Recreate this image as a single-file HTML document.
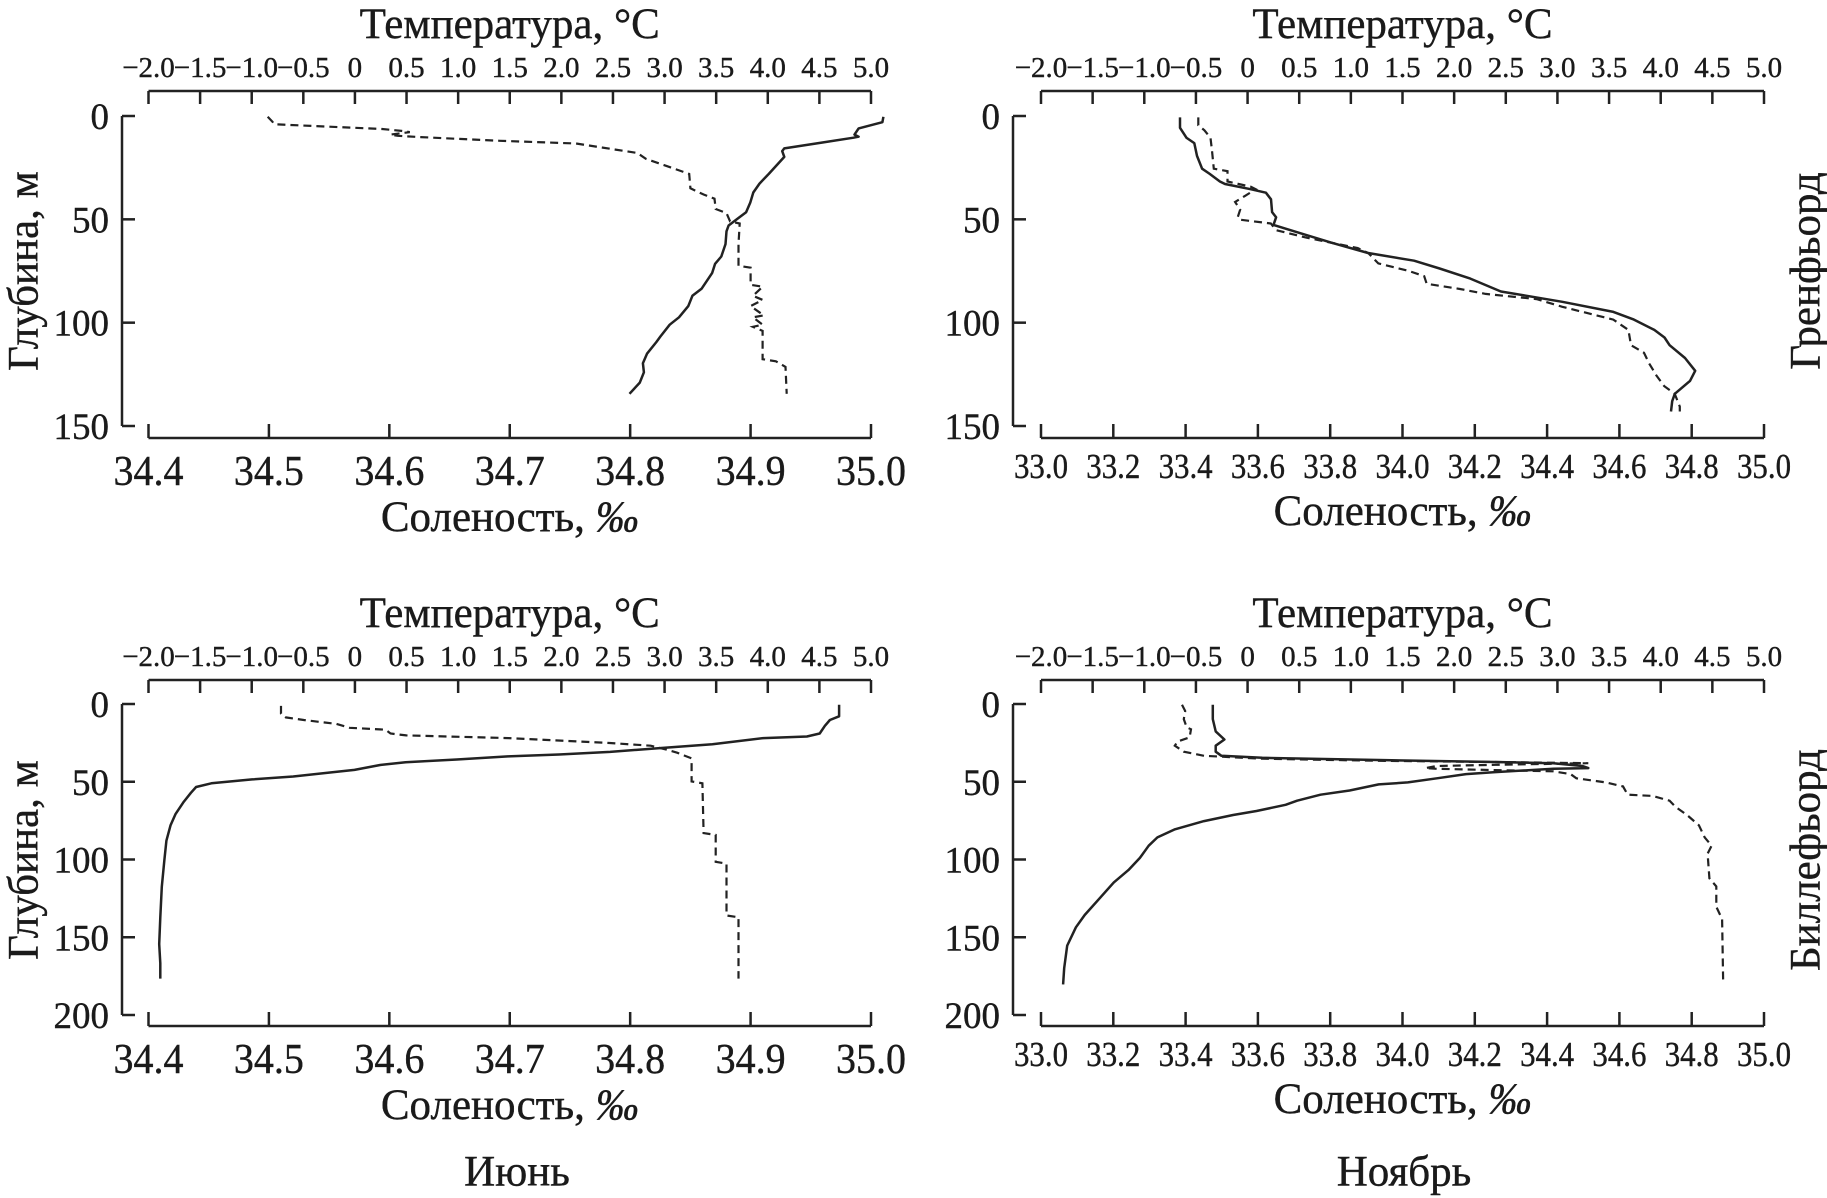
<!DOCTYPE html>
<html><head><meta charset="utf-8"><style>
html,body{margin:0;padding:0;background:#fff;}
svg{display:block;font-family:"Liberation Serif","DejaVu Serif",serif;}
</style></head><body>
<svg id="fig" width="1827" height="1198" viewBox="0 0 1827 1198" xmlns="http://www.w3.org/2000/svg"></svg>
<script>
// ---- data: Grenfjord June (top-left) ----
const gjTempDepth=[0.4,3,6,9,10,10.5,12.8,15.7,17,19.8,28,32.7,37,42,46.6,50,53,55.8,62,68,71.5,76,83.5,87,92,97.4,101,106.7,109.4,115,119.6,124,129,134.4];
const gjTemp=[5.12,5.11,4.88,4.84,4.88,4.83,4.53,4.16,4.14,4.16,4.01,3.92,3.86,3.83,3.79,3.70,3.62,3.60,3.59,3.55,3.49,3.46,3.36,3.27,3.23,3.14,3.05,2.96,2.92,2.83,2.79,2.80,2.76,2.66];
const gjSalDepth=[0.4,2.8,3.7,4,6.3,7.2,7.8,9,9.6,10.2,12,13.3,17.9,20.7,28,35,38,40,45,47,51,52,62,72.5,73.4,81.7,82.6,87,89,92,96.5,97.4,101,102,104,117.7,118.7,121.4,134.4];
const gjSal=[34.499,34.503,34.504,34.505,34.594,34.61,34.617,34.601,34.607,34.626,34.692,34.755,34.806,34.813,34.849,34.85,34.861,34.87,34.871,34.88,34.883,34.891,34.89,34.89,34.9,34.9,34.91,34.902,34.91,34.9,34.911,34.902,34.91,34.902,34.91,34.91,34.921,34.929,34.93];
// ---- data: Grenfjord November (top-right) ----
const gnTempDepth=[0.7,5.7,10.6,13.1,19.3,25.5,28,31.7,32.9,35.4,37.1,40.3,46.5,49,52.7,57.7,61.4,66.3,70,73.8,78.7,84.9,89.9,94.8,98.5,103.5,107.2,110.9,117.1,123.3,128.2,134.4,138,143];
const gnTemp=[-0.654,-0.654,-0.59,-0.516,-0.49,-0.44,-0.367,-0.268,-0.219,0.029,0.177,0.227,0.237,0.276,0.251,0.573,0.82,1.167,1.612,1.859,2.156,2.453,3.047,3.542,3.74,3.938,4.037,4.086,4.235,4.334,4.284,4.136,4.111,4.10];
const gnSalDepth=[0.7,4.5,6.9,10.6,16.8,25.5,26.7,31.7,34.2,35.4,38.6,41.6,45.3,49,50.2,52,55.2,58.9,63.9,66.3,71.3,75,77.5,81.2,83.7,86.1,88.6,92.3,98.5,103.5,110.9,114.6,119.6,125.7,130.7,134.4,140.6,143];
const gnSal=[33.435,33.435,33.452,33.469,33.473,33.478,33.516,33.516,33.58,33.594,33.565,33.537,33.551,33.544,33.551,33.636,33.65,33.735,33.876,33.905,33.933,34.018,34.06,34.067,34.159,34.23,34.371,34.442,34.583,34.625,34.632,34.668,34.682,34.703,34.724,34.753,34.767,34.767];
// ---- data: Billefjord June (bottom-left) ----
const bjTempDepth=[0.5,7.9,10.3,14,19,20.9,21.9,25.9,28.3,30.8,32.5,33.7,35.7,37.4,39.2,42.4,44.1,46.6,48.5,51,53.4,57.1,63.3,70.7,78.1,87.9,100.2,117.5,137.2,154.4,166.7,176.6];
const bjTemp=[4.691,4.691,4.602,4.553,4.503,4.379,3.958,3.463,2.968,2.472,1.977,1.482,0.987,0.491,0.244,-0.004,-0.252,-0.598,-0.995,-1.391,-1.539,-1.589,-1.663,-1.737,-1.787,-1.827,-1.846,-1.871,-1.886,-1.896,-1.886,-1.886];
const bjSalDepth=[1.2,6.2,8.6,10.3,12.8,15.3,16.5,19,20.2,21.9,25.1,26.8,29.3,31.3,35,49.8,51,83,84.2,101.5,102.7,136,137.2,176.6];
const bjSal=[34.51,34.51,34.514,34.529,34.556,34.567,34.597,34.601,34.614,34.699,34.783,34.817,34.83,34.839,34.851,34.851,34.86,34.861,34.871,34.871,34.88,34.88,34.89,34.89];
// ---- data: Billefjord November (bottom-right) ----
const bnTempDepth=[0.5,9.7,17.6,22.8,26.8,30.7,33.3,34.6,36,37.3,38.1,39.9,41.2,41.7,43.8,45.1,47.8,50.4,51.7,55.6,58.3,62.2,64.8,68.8,71.4,75.3,80.6,85.8,91.1,99,106.8,114.7,125.2,135.7,143.6,155.4,169.8,180.3];
const bnTemp=[-0.337,-0.337,-0.309,-0.224,-0.309,-0.309,-0.253,0.142,1.27,2.397,2.961,3.243,3.299,2.961,2.397,2.115,1.833,1.551,1.27,0.988,0.706,0.48,0.368,0.086,-0.14,-0.422,-0.703,-0.873,-0.957,-1.042,-1.154,-1.295,-1.436,-1.577,-1.662,-1.746,-1.775,-1.786];
const bnSalDepth=[0.5,4.5,9.7,15,16.3,21.5,24.1,26.8,30.7,33.3,35.2,36.5,37.3,38.1,39.1,39.9,41.2,41.7,42.5,43.3,45.1,47.8,50.4,53,58.3,59.1,62.2,66.1,71.4,78,85.8,91.1,96.3,112.1,117.3,130.4,138.3,180.3];
const bnSal=[33.39,33.399,33.395,33.403,33.415,33.411,33.378,33.37,33.395,33.451,33.612,33.934,34.256,34.514,34.256,34.095,34.063,34.095,34.256,34.417,34.465,34.481,34.562,34.61,34.623,34.691,34.739,34.755,34.787,34.82,34.836,34.855,34.844,34.849,34.868,34.868,34.884,34.887];
// ---- tick labels ----
const tempTicks=[-2.0,-1.5,-1.0,-0.5,0,0.5,1.0,1.5,2.0,2.5,3.0,3.5,4.0,4.5,5.0];
const salTicksJune=[34.4,34.5,34.6,34.7,34.8,34.9,35.0];
const salTicksNov=[33.0,33.2,33.4,33.6,33.8,34.0,34.2,34.4,34.6,34.8,35.0];
const depthTicksTop=[0,50,100,150];
const depthTicksBottom=[0,50,100,150,200];

const NS="http://www.w3.org/2000/svg";
const svg=document.getElementById('fig');
function mk(tag,attrs,parent){const e=document.createElementNS(NS,tag);for(const k in attrs)e.setAttribute(k,attrs[k]);(parent||svg).appendChild(e);return e;}
function fmtT(v){if(v===0)return '0';return (v<0?'\u2212':'')+Math.abs(v).toFixed(1);}
const TXT='#1a1a1a';

function panel(cfg){
  const g=mk('g',{});
  
  
  const sx=v=>cfg.x0+(v-cfg.sMin)/(cfg.sMax-cfg.sMin)*(cfg.x1-cfg.x0);
  const tx=v=>cfg.x0+(v-(-2))/7*(cfg.x1-cfg.x0);
  const dy=v=>cfg.d0+v/cfg.dMax*(cfg.dEnd-cfg.d0);
  const ta=mk('g',{},g);
  
  
  mk('line',{x1:cfg.x0,x2:cfg.x1,y1:cfg.topY,y2:cfg.topY,stroke:'#222','stroke-width':2.5},ta);
  tempTicks.forEach(v=>{
    mk('line',{x1:tx(v),x2:tx(v),y1:cfg.topY,y2:cfg.topY+13,stroke:'#222','stroke-width':2.5},ta);
    const t=mk('text',{x:tx(v),y:cfg.topY-14,'font-size':29,'text-anchor':'middle',fill:TXT,stroke:TXT,'stroke-width':0.4},ta);
    
    
    t.textContent=fmtT(v);
  });
  const tt=mk('text',{x:(cfg.x0+cfg.x1)/2,y:cfg.topY-53,'font-size':43,'text-anchor':'middle',fill:TXT,stroke:TXT,'stroke-width':0.4},g);
  
  
  tt.textContent='Температура, °C';
  const sa=mk('g',{},g);
  
  
  mk('line',{x1:cfg.x0,x2:cfg.x1,y1:cfg.botY,y2:cfg.botY,stroke:'#222','stroke-width':2.5},sa);
  cfg.sTicks.forEach(v=>{
    mk('line',{x1:sx(v),x2:sx(v),y1:cfg.botY,y2:cfg.botY-14,stroke:'#222','stroke-width':2.5},sa);
    const a={x:sx(v),y:cfg.botY+cfg.sLabOff,'font-size':cfg.sFont,'text-anchor':'middle',fill:TXT,stroke:TXT,'stroke-width':0.4};
    if(cfg.sLen){a.textLength=cfg.sLen;a.lengthAdjust='spacingAndGlyphs';}
    const t=mk('text',a,sa);
    
    
    t.textContent=v.toFixed(1);
  });
  const st=mk('text',{x:(cfg.x0+cfg.x1)/2,y:cfg.botY+cfg.sTitleOff,'font-size':43,'text-anchor':'middle',fill:TXT,stroke:TXT,'stroke-width':0.4},g);
  
  
  st.innerHTML='Соленость, <tspan font-style="italic">‰</tspan>';
  const da=mk('g',{},g);
  
  
  mk('line',{x1:cfg.sp,x2:cfg.sp,y1:cfg.d0,y2:cfg.dEnd,stroke:'#222','stroke-width':2.5},da);
  cfg.dTicks.forEach(v=>{
    mk('line',{x1:cfg.sp,x2:cfg.sp+13,y1:dy(v),y2:dy(v),stroke:'#222','stroke-width':2.5},da);
    const t=mk('text',{x:cfg.sp-13,y:dy(v)+13,'font-size':37,'text-anchor':'end',fill:TXT,stroke:TXT,'stroke-width':0.4},da);
    
    
    t.textContent=String(v);
  });
  const tp=cfg.temp.map((v,i)=>tx(v).toFixed(1)+','+dy(cfg.tempD[i]).toFixed(1)).join(' ');
  const tl=mk('polyline',{points:tp,fill:'none',stroke:'#222','stroke-width':2.5,'stroke-linejoin':'round'},g);
  
  
  const sp=cfg.sal.map((v,i)=>sx(v).toFixed(1)+','+dy(cfg.salD[i]).toFixed(1)).join(' ');
  const sl=mk('polyline',{points:sp,fill:'none',stroke:'#222','stroke-width':2.2,'stroke-dasharray':'8,5'},g);
  
  
}
const L={x0:148.5,x1:871,sp:122,sMin:34.4,sMax:35.0,sTicks:salTicksJune,sFont:42,sLen:70,sLabOff:47,sTitleOff:93};
const R={x0:1041,x1:1764,sp:1013,sMin:33.0,sMax:35.0,sTicks:salTicksNov,sFont:35,sLen:54,sLabOff:40,sTitleOff:87};
const TOP={topY:91,d0:116,dEnd:426,dMax:150,botY:438,dTicks:depthTicksTop};
const BOT={topY:680,d0:704,dEnd:1015,dMax:200,botY:1026,dTicks:depthTicksBottom};
panel(Object.assign({name:'grenfjord-june-panel',temp:gjTemp,tempD:gjTempDepth,sal:gjSal,salD:gjSalDepth},L,TOP));
panel(Object.assign({name:'grenfjord-november-panel',temp:gnTemp,tempD:gnTempDepth,sal:gnSal,salD:gnSalDepth},R,TOP));
panel(Object.assign({name:'billefjord-june-panel',temp:bjTemp,tempD:bjTempDepth,sal:bjSal,salD:bjSalDepth},L,BOT));
panel(Object.assign({name:'billefjord-november-panel',temp:bnTemp,tempD:bnTempDepth,sal:bnSal,salD:bnSalDepth},R,BOT));

function label(txt,x,y,rot,name){
  const t=mk('text',{x:x,y:y,'font-size':43,'text-anchor':'middle','dominant-baseline':'central',fill:TXT,stroke:TXT,'stroke-width':0.4});
  if(rot)t.setAttribute('transform','rotate(-90 '+x+' '+y+')');
  
  
  t.textContent=txt;
}
label('Глубина, м',24,271,true,'depth-axis-title-top');
label('Глубина, м',24,860,true,'depth-axis-title-bottom');
label('Гренфьорд',1806,271,true,'grenfjord-label');
label('Биллефьорд',1806,860,true,'billefjord-label');
label('Июнь',517,1172,false,'june-label');
label('Ноябрь',1404,1172,false,'november-label');
</script>
</body></html>
